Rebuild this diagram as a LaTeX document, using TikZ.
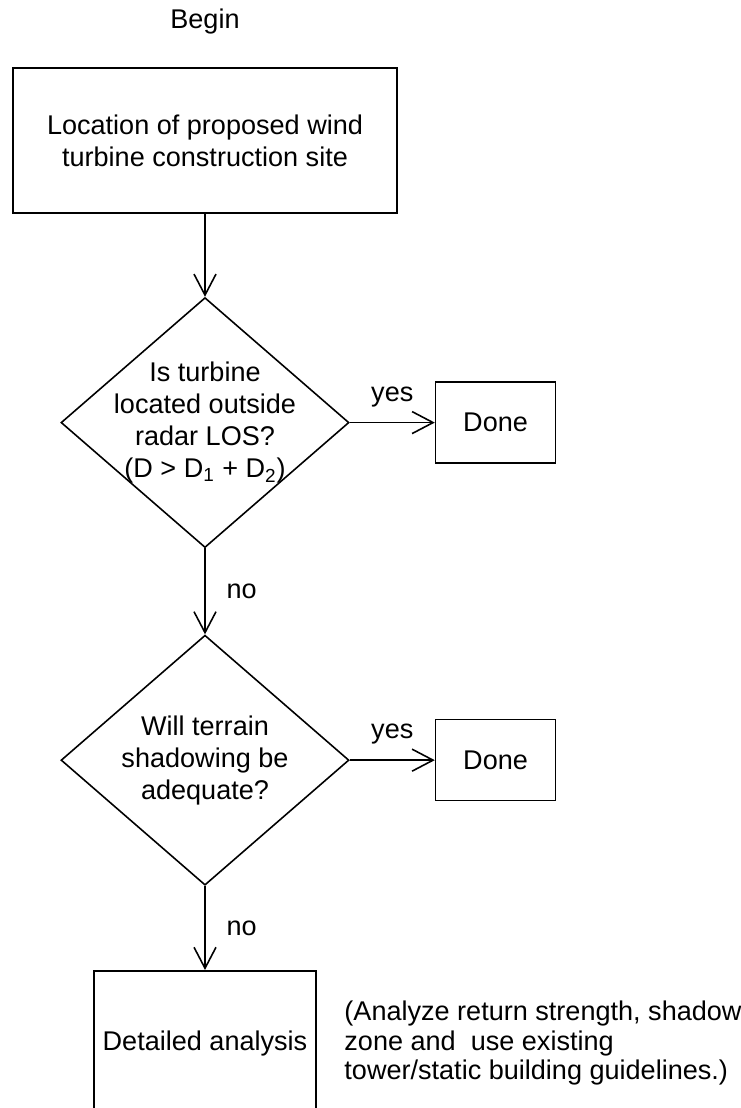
\documentclass[tikz,border=0pt]{standalone}
\usepackage{fontspec}
\setmainfont{Liberation Sans}
\usetikzlibrary{positioning,shapes.geometric,arrows.meta}

\begin{document}
\begin{tikzpicture}[font=\fontsize{15.4}{18.2}\selectfont,line width=0.9pt,
    box/.style={draw,align=center},
    decision/.style={draw,diamond,minimum width=5.76cm,minimum height=5cm,inner sep=0pt},
    flow/.style={-{Straight Barb[length=0.42cm,width=0.44cm]}}]
    \useasboundingbox (0,0) rectangle (14.8,-22.16);
    \node (begin) at (4.1,-0.42) {Begin};
    \node[box,minimum width=7.68cm,minimum height=2.9cm] (site) at (4.1,-2.81) {Location of proposed wind\\turbine construction site};
    \node[decision,below=1.66cm of site,label={[align=center]center:Is turbine\\located outside\\radar LOS?\\(D > D\textsubscript{1} + D\textsubscript{2})}] (los) {};
    \node[box,minimum width=2.4cm,minimum height=1.62cm,right=1.7cm of los] (done1) {Done};
    \node[decision,below=1.72cm of los,label={[align=center]center:Will terrain\\shadowing be\\adequate?}] (shadow) {};
    \node[box,minimum width=2.4cm,minimum height=1.62cm,right=1.7cm of shadow] (done2) {Done};
    \node[box,minimum width=4.44cm,minimum height=2.9cm,below=1.68cm of shadow] (detail) {Detailed analysis};
    \node[right=0.42cm of detail,align=left,font=\fontsize{15.4}{16.8}\selectfont] (note) {(Analyze return strength, shadow\\zone and\ \ use existing\\tower/static building guidelines.)};

    \draw[flow] (site) -- (los);
    \draw[flow] (los) -- node[above=0.18cm] {yes} (done1);
    \draw[flow] (los) -- node[right=0.3cm] {no} (shadow);
    \draw[flow] (shadow) -- node[above=0.18cm] {yes} (done2);
    \draw[flow] (shadow) -- node[right=0.3cm] {no} (detail);
\end{tikzpicture}
\end{document}
